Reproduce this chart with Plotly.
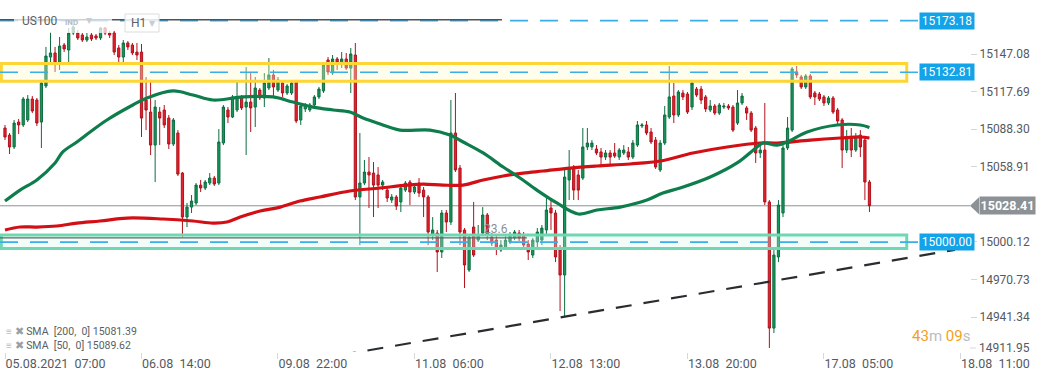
import plotly.graph_objects as go

# ---------------- data ----------------
opens = [15089.2, 15083.7, 15074.4, 15093.9, 15091.6, 15095.5, 15111.9, 15111.1, 15093.9, 15122.1,
         15144.7, 15147.9, 15140.0, 15154.1, 15150.2, 15163.5, 15163.5, 15161.9, 15158.0, 15161.9,
         15161.2, 15159.6, 15167.4, 15163.5, 15163.5, 15151.8, 15144.7, 15155.7, 15154.1, 15148.6,
         15148.6,
         15111.1, 15101.7, 15075.9, 15101.7, 15103.3, 15097.0, 15076.7, 15085.3, 15054.0, 15019.6,
         15027.4, 15030.6, 15044.6, 15042.3, 15046.2, 15050.1, 15046.2, 15077.5, 15103.3, 15097.8,
         15103.3, 15113.5, 15105.6, 15109.5, 15105.6, 15118.9, 15112.7, 15120.5, 15130.7, 15118.9,
         15124.4, 15116.6, 15116.6, 15125.2, 15095.5, 15104.1, 15103.3, 15107.2, 15113.5, 15118.2,
         15142.4, 15132.2, 15143.2, 15140.0, 15143.2, 15136.1, 15146.3,
         15035.3, 15046.2, 15054.8, 15054.0, 15052.5, 15044.6, 15040.7, 15032.9, 15035.3, 15031.4,
         15040.7, 15047.0, 15039.2, 15046.2, 15040.7, 15035.3, 15005.6, 15007.1, 14992.3, 15022.8,
         15015.7, 15085.3, 15057.9, 15009.5, 14978.2, 15011.8, 15001.6, 15007.1, 15021.2, 15004.0,
         15001.6, 14993.8, 14995.4, 15000.1, 15003.2, 15007.1, 15005.6, 14998.5, 14989.9, 15000.1,
         15001.6, 15009.5, 15026.7, 15022.8, 14993.8, 14974.3, 15048.6, 15057.9, 15052.5, 15050.1,
         15074.4, 15074.4, 15072.8, 15070.5, 15066.5, 15069.7, 15069.7, 15066.5, 15069.7, 15070.5,
         15066.5, 15075.9, 15090.8, 15091.6, 15086.1, 15079.8, 15056.4, 15077.5, 15097.8, 15114.2,
         15099.4, 15116.6, 15115.8, 15105.6, 15119.7, 15119.7, 15113.5, 15103.3, 15106.4, 15100.9,
         15105.6, 15106.4, 15105.6, 15093.1, 15108.8, 15104.9, 15100.9, 15089.2, 15069.7, 15072.0,
         15031.4, 14932.8, 14988.4, 15022.8, 15073.6, 15087.6, 15133.0, 15129.1, 15121.3, 15129.9,
         15116.6, 15115.8, 15113.5, 15108.8, 15112.7, 15103.3, 15095.5, 15072.0, 15082.2, 15072.0,
         15083.7, 15079.8, 15047.0]
highs = [15091.6, 15085.3, 15095.5, 15096.3, 15113.5, 15115.0, 15114.2, 15112.7, 15126.8, 15152.6,
         15164.3, 15152.6, 15160.4, 15155.7, 15167.4, 15169.8, 15165.8, 15163.5, 15163.5, 15163.5,
         15162.7, 15168.2, 15168.2, 15165.1, 15165.1, 15154.1, 15158.0, 15157.2, 15155.7, 15155.7,
         15154.9,
         15129.1, 15126.8, 15111.1, 15105.6, 15107.2, 15099.4, 15097.0, 15087.6, 15054.8, 15030.6,
         15036.8, 15046.2, 15048.6, 15048.6, 15054.0, 15051.7, 15088.4, 15107.2, 15105.6, 15115.0,
         15125.2, 15115.0, 15136.9, 15133.0, 15129.1, 15120.5, 15132.2, 15143.9, 15134.6, 15129.1,
         15126.8, 15123.6, 15126.8, 15126.8, 15108.0, 15108.8, 15108.8, 15115.0, 15121.3, 15140.8,
         15144.7, 15146.3, 15144.7, 15148.6, 15147.9, 15151.8, 15155.7,
         15085.3, 15064.2, 15066.5, 15062.6, 15058.7, 15048.6, 15043.1, 15037.6, 15036.8, 15044.6,
         15047.8, 15048.6, 15045.4, 15050.1, 15043.1, 15036.8, 15019.6, 15009.5, 15025.1, 15025.1,
         15111.1, 15116.6, 15060.3, 15011.0, 15005.6, 15031.4, 15013.4, 15027.4, 15022.8, 15007.1,
         15004.8, 15001.6, 15004.8, 15007.9, 15009.5, 15009.5, 15007.9, 15001.6, 15003.2, 15011.0,
         15013.4, 15034.5, 15032.9, 15025.1, 14997.7, 15056.4, 15072.0, 15060.3, 15056.4, 15089.2,
         15089.2, 15079.8, 15075.9, 15073.6, 15072.0, 15072.0, 15077.5, 15073.6, 15075.9, 15074.4,
         15079.8, 15094.7, 15093.1, 15094.7, 15089.2, 15082.2, 15079.8, 15106.4, 15137.7, 15124.4,
         15118.9, 15118.9, 15117.4, 15126.8, 15121.3, 15122.1, 15115.0, 15111.1, 15108.0, 15108.8,
         15108.8, 15108.0, 15107.2, 15118.9, 15116.6, 15106.4, 15102.5, 15090.8, 15075.9, 15108.8,
         15032.9, 14993.8, 15032.9, 15075.9, 15097.8, 15136.9, 15137.7, 15130.7, 15131.4, 15131.4,
         15118.2, 15117.4, 15115.0, 15114.2, 15114.2, 15104.9, 15097.0, 15087.6, 15089.2, 15085.3,
         15087.6, 15081.4, 15048.6]
lows = [15079.8, 15068.9, 15072.8, 15084.5, 15090.0, 15093.9, 15100.9, 15090.8, 15073.6, 15120.5,
        15140.8, 15133.0, 15134.6, 15148.6, 15140.0, 15161.9, 15158.0, 15156.5, 15156.5, 15157.2,
        15158.0, 15158.0, 15161.9, 15159.6, 15146.3, 15140.8, 15140.8, 15150.2, 15146.3, 15142.4,
        15082.2,
        15087.6, 15068.1, 15047.0, 15075.9, 15089.2, 15072.8, 15075.1, 15051.7, 15004.0, 15011.8,
        15022.8, 15029.0, 15039.2, 15040.7, 15044.6, 15043.9, 15044.6, 15075.9, 15093.1, 15097.0,
        15101.7, 15103.3, 15068.1, 15086.1, 15090.0, 15111.1, 15105.6, 15118.9, 15113.5, 15117.4,
        15113.5, 15115.0, 15115.0, 15093.1, 15091.6, 15101.7, 15101.7, 15105.6, 15111.9, 15116.6,
        15130.7, 15130.7, 15134.6, 15136.1, 15134.6, 15116.6, 15032.9,
        14997.7, 15044.6, 15026.7, 15019.6, 15026.7, 15040.7, 15031.4, 15030.6, 15025.1, 15023.5,
        15039.2, 15029.0, 15037.6, 15035.3, 15019.6, 14997.7, 15001.6, 14976.6, 14987.6, 15007.9,
        15013.4, 15054.8, 14997.7, 14964.1, 14976.6, 14988.4, 15000.1, 15005.6, 15001.6, 14997.0,
        14989.9, 14992.3, 14993.8, 14998.5, 15001.6, 15000.9, 14995.4, 14986.0, 14987.6, 14993.8,
        14997.7, 15005.6, 15009.5, 14984.4, 14946.1, 14941.4, 15032.9, 15032.9, 15032.9, 15048.6,
        15072.0, 15072.0, 15068.1, 15060.3, 15064.2, 15060.3, 15065.8, 15064.2, 15068.1, 15064.2,
        15065.0, 15074.4, 15089.2, 15083.7, 15076.7, 15057.2, 15054.8, 15075.9, 15096.3, 15093.1,
        15097.8, 15111.1, 15100.2, 15103.3, 15113.5, 15108.0, 15101.7, 15101.7, 15099.4, 15099.4,
        15104.1, 15103.3, 15086.1, 15091.6, 15107.2, 15095.5, 15086.1, 15061.9, 15065.8, 15029.0,
        14917.2, 14928.9, 14984.4, 15019.6, 15072.0, 15086.1, 15128.3, 15119.7, 15119.7, 15111.9,
        15107.2, 15110.3, 15106.4, 15107.2, 15100.2, 15092.3, 15057.9, 15069.7, 15066.5, 15070.5,
        15066.5, 15032.9, 15023.5]
closes = [15082.2, 15074.4, 15093.1, 15091.6, 15111.9, 15111.9, 15102.5, 15093.1, 15124.4, 15145.5,
          15147.9, 15140.0, 15153.3, 15151.0, 15163.5, 15168.2, 15159.6, 15158.0, 15160.4, 15158.8,
          15159.6, 15167.4, 15163.5, 15161.9, 15148.6, 15144.7, 15155.7, 15152.6, 15147.9, 15146.3,
          15097.0,
          15103.3, 15075.9, 15105.6, 15097.0, 15091.6, 15076.7, 15095.5, 15053.2, 15019.6, 15027.4,
          15032.1, 15044.6, 15042.3, 15047.0, 15050.1, 15045.4, 15078.3, 15105.6, 15097.8, 15113.5,
          15113.5, 15104.9, 15109.5, 15104.9, 15120.5, 15112.7, 15124.4, 15130.7, 15121.3, 15126.8,
          15116.6, 15122.1, 15124.4, 15094.7, 15106.4, 15107.2, 15107.2, 15113.5, 15119.7, 15138.5,
          15133.0, 15143.2, 15140.0, 15143.2, 15136.1, 15147.1, 15035.3,
          15046.2, 15054.8, 15052.5, 15044.6, 15044.6, 15047.0, 15034.5, 15035.3, 15028.2, 15042.3,
          15046.2, 15039.2, 15043.1, 15038.4, 15035.3, 15007.9, 15009.5, 14992.3, 15022.8, 15015.7,
          15085.3, 15056.4, 15007.9, 14982.1, 15004.0, 14989.9, 15005.6, 15021.2, 15005.6, 14999.3,
          14995.4, 14997.7, 15001.6, 15005.6, 15007.9, 15003.2, 14997.7, 14992.3, 15001.6, 15007.9,
          15011.0, 15025.1, 15022.8, 14988.4, 14974.3, 15050.9, 15057.9, 15040.7, 15040.7, 15074.4,
          15077.5, 15077.5, 15069.7, 15066.5, 15069.7, 15066.5, 15067.3, 15072.0, 15072.0, 15066.5,
          15077.5, 15091.6, 15091.6, 15085.3, 15078.3, 15058.7, 15077.5, 15099.4, 15113.5, 15099.4,
          15117.4, 15113.5, 15101.7, 15124.4, 15115.0, 15111.1, 15104.1, 15106.4, 15100.9, 15107.2,
          15106.4, 15104.9, 15087.6, 15108.8, 15114.2, 15100.9, 15087.6, 15069.7, 15072.0, 15031.4,
          14932.8, 14989.9, 15029.0, 15073.6, 15089.2, 15135.4, 15130.7, 15121.3, 15129.9, 15113.5,
          15113.5, 15111.9, 15108.8, 15112.7, 15101.7, 15094.7, 15072.0, 15082.2, 15072.0, 15082.2,
          15074.4, 15047.0, 15028.41]
candle_index = list(range(len(closes)))

sma50_idx = [0, 3.3, 7, 11, 12.7, 15.8, 18.7, 22.4, 28.1, 31.2, 36.9, 41.3, 45.7, 52.3, 58.9, 63.3,
             67.7, 72.1, 75.8, 78.7, 81.8, 86.8, 93.4, 97.8, 100.7, 105.1, 109.5, 113.2, 116.9, 121.3,
             126, 130.1, 135.2, 141.1, 144.6, 148.4, 155, 160.9, 165.3, 166.6, 169.7, 171.9, 176.3,
             182.9, 188, 190]
sma50_val = [15032.1, 15040.7, 15048.6, 15061.9, 15070.5, 15078.3, 15086.1, 15095.5, 15107.2, 15112.7,
             15118.2, 15115.0, 15111.1, 15113.5, 15113.5, 15109.5, 15105.6, 15103.3, 15101.7, 15097.0,
             15093.1, 15087.6, 15087.6, 15083.7, 15078.3, 15069.7, 15058.7, 15050.1, 15040.7, 15030.6,
             15022.0, 15025.1, 15027.4, 15032.9, 15038.4, 15042.3, 15050.9, 15061.9, 15074.4, 15077.5,
             15075.9, 15078.3, 15086.1, 15091.6, 15091.6, 15089.62]
sma200_idx = [0, 3.3, 7, 11.4, 15.8, 20.9, 26.8, 34.7, 41.3, 45.7, 48.8, 51.7, 56.1, 60.5, 64.8, 69.2,
              75.8, 82.4, 88.4, 91.9, 96.3, 100.7, 105.1, 109.5, 113.9, 118.3, 124.2, 130.1, 137.4, 144,
              151.2, 158.7, 166, 169.7, 177, 183.6, 188, 190]
sma200_val = [15009.5, 15011.8, 15011.8, 15012.6, 15014.9, 15016.5, 15018.8, 15018.1, 15016.5, 15014.9,
              15015.7, 15019.6, 15024.3, 15027.4, 15032.1, 15035.3, 15040.0, 15042.3, 15044.6, 15045.4,
              15044.6, 15044.6, 15048.6, 15051.7, 15054.0, 15055.6, 15057.9, 15059.5, 15061.1, 15063.4,
              15069.7, 15074.4, 15077.5, 15077.5, 15079.8, 15081.4, 15082.2, 15081.39]

trend_x = [73.6, 208.8]
trend_y = [14911.6, 14994.0]

level_prices = [15173.18, 15132.81, 15000.00]
level_labels = ["15173.18", "15132.81", "15000.00"]
yellow_zone = [15125.8, 15139.6]
green_zone = [14995.0, 15005.6]
fib_level = 15003.4
fib_end_idx = 114.7
fib_label = "23.6"
top_line_price = 15173.9
last_price = 15028.41

y_tick_vals = [15147.08, 15117.69, 15088.30, 15058.91, 15000.12, 14970.73, 14941.34]
bottom_tick = 14911.95
x_tick_idx = [0, 30, 60, 90, 120, 150, 180, 210]
x_tick_text = ["05.08.2021  07:00", "06.08  14:00", "09.08  22:00", "11.08  06:00",
               "12.08  13:00", "13.08  20:00", "17.08  05:00", "18.08  11:00"]
sma_legend = ["SMA  [200,  0] 15081.39", "SMA  [50,  0] 15089.62"]

# ---------------- figure ----------------
FONT = "Roboto"
W, H = 1041, 379
ML, MR, MT, MB = 0, 71, 0, 27
PW, PH = W - ML - MR, H - MT - MB
X0, X1 = -1.1, 212.1
Y0, Y1 = 14914.1, 15189.3

def px_x(p):
    return p / PW

def px_y(p):
    return 1 - p / PH

fig = go.Figure()

fig.add_trace(go.Candlestick(
    x=candle_index, open=opens, high=highs, low=lows, close=closes,
    increasing=dict(line=dict(color="#0c6e40", width=1), fillcolor="#17955a"),
    decreasing=dict(line=dict(color="#b3121c", width=1), fillcolor="#e2232d"),
    whiskerwidth=0, showlegend=False, hoverinfo="skip"))

fig.add_trace(go.Scatter(x=sma200_idx, y=sma200_val, mode="lines", line_shape="spline",
                         line=dict(color="#d30f16", width=3.2), showlegend=False, hoverinfo="skip"))
fig.add_trace(go.Scatter(x=sma50_idx, y=sma50_val, mode="lines", line_shape="spline",
                         line=dict(color="#0e7d4c", width=3.2), showlegend=False, hoverinfo="skip"))
fig.add_trace(go.Scatter(x=trend_x, y=trend_y, mode="lines",
                         line=dict(color="#2a2d30", width=2.2, dash="16px,12px"),
                         showlegend=False, hoverinfo="skip"))

shapes = []
# zones
shapes.append(dict(type="rect", xref="x", yref="y", x0=-0.8, x1=198.2, y0=yellow_zone[0], y1=yellow_zone[1],
                   line=dict(color="#fdd535", width=3), fillcolor="rgba(255,248,200,0.35)", layer="above"))
shapes.append(dict(type="rect", xref="x", yref="y", x0=-0.8, x1=198.2, y0=green_zone[0], y1=green_zone[1],
                   line=dict(color="#6fd8b2", width=3), fillcolor="rgba(215,245,235,0.3)", layer="above"))
# price levels (dashed blue)
for lp in level_prices:
    shapes.append(dict(type="line", xref="paper", yref="y", x0=0, x1=px_x(919), y0=lp, y1=lp,
                       line=dict(color="#3aaee6", width=1.6, dash="18px,12px"), layer="above"))
# top gray line
shapes.append(dict(type="line", xref="paper", yref="y", x0=0, x1=px_x(502), y0=top_line_price, y1=top_line_price,
                   line=dict(color="#4d5358", width=1.5), layer="above"))
# fib line
shapes.append(dict(type="line", xref="paper", yref="y", x0=0, x1=(fib_end_idx - X0) / (X1 - X0),
                   y0=fib_level, y1=fib_level, line=dict(color="#5f6468", width=1.2), layer="above"))
# last price line
shapes.append(dict(type="line", xref="paper", yref="y", x0=0, x1=1, y0=last_price, y1=last_price,
                   line=dict(color="#8a9197", width=1), layer="below"))
# last price tag arrow
ppx = (Y1 - Y0) / PH
shapes.append(dict(type="path", xref="paper", yref="y",
                   path=f"M {px_x(970)} {last_price} L {px_x(979)} {last_price + 8.5 * ppx} "
                        f"L {px_x(979)} {last_price - 8.5 * ppx} Z",
                   fillcolor="#8c9196", line=dict(width=0), layer="above"))
# header background
shapes.append(dict(type="rect", xref="paper", yref="paper", x0=px_x(14), x1=px_x(112),
                   y0=px_y(33), y1=px_y(11), fillcolor="rgba(255,255,255,0.72)", line=dict(width=0), layer="above"))
shapes.append(dict(type="rect", xref="paper", yref="paper", x0=px_x(125), x1=px_x(159),
                   y0=px_y(32), y1=px_y(14), fillcolor="rgba(255,255,255,0.85)",
                   line=dict(color="#dcdcdc", width=1), layer="above"))

annotations = []
for lp, lt in zip(level_prices, level_labels):
    annotations.append(dict(xref="paper", yref="y", x=px_x(919), y=lp, xanchor="left", yanchor="middle",
                            text=lt, showarrow=False, bgcolor="#12a3e8", width=54, height=16, borderpad=0,
                            font=dict(family=FONT, size=12, color="white")))
annotations.append(dict(xref="paper", yref="y", x=px_x(979), y=last_price, xanchor="left", yanchor="middle",
                        text=f"<b>{last_price:.2f}</b>", showarrow=False, bgcolor="#8c9196", width=55, height=17,
                        borderpad=0, font=dict(family=FONT, size=12.5, color="white")))
# bottom y tick label (drawn just above the axis edge, as in the source)
annotations.append(dict(xref="paper", yref="paper", x=px_x(977), y=px_y(348), xanchor="left",
                        yanchor="middle", text=f"{bottom_tick:.2f}", showarrow=False,
                        font=dict(family=FONT, size=12, color="#555a5f")))
shapes.append(dict(type="line", xref="paper", yref="paper", x0=px_x(970), x1=px_x(976),
                   y0=px_y(348), y1=px_y(348), line=dict(color="#d5d8db", width=1)))
annotations.append(dict(xref="paper", yref="y", x=(108 - X0) / (X1 - X0), y=fib_level, yshift=9,
                        xanchor="center", yanchor="middle", text=fib_label, showarrow=False,
                        font=dict(family=FONT, size=12, color="#8a8f94")))
annotations.append(dict(xref="paper", yref="paper", x=px_x(972), y=px_y(336), xanchor="right", yanchor="middle",
                        text="<span style='color:#f5a01a'>43</span><span style='color:#b9bcc0'>m</span> "
                             "<span style='color:#f5a01a'>09</span><span style='color:#b9bcc0'>s</span>",
                        showarrow=False, font=dict(family=FONT, size=15)))
for i, txt in enumerate(sma_legend):
    annotations.append(dict(xref="paper", yref="paper", x=px_x(4), y=px_y(331 + 14.5 * i), xanchor="left",
                            yanchor="middle",
                            text="<span style='color:#9aa0a5'>\u2261 \u2716</span> " + txt.replace("  ", "\u00a0 "),
                            showarrow=False, font=dict(family=FONT, size=10.5, color="#5a5f64")))
# header texts
annotations.append(dict(xref="paper", yref="paper", x=px_x(20), y=px_y(21), xanchor="left", yanchor="middle",
                        text="US100", showarrow=False, font=dict(family=FONT, size=12, color="#5b6064")))
annotations.append(dict(xref="paper", yref="paper", x=px_x(63), y=px_y(23), xanchor="left", yanchor="middle",
                        text="<b>IND</b>", showarrow=False, font=dict(family=FONT, size=8, color="#b7bcc0")))
annotations.append(dict(xref="paper", yref="paper", x=px_x(84), y=px_y(20), xanchor="left", yanchor="middle",
                        text="\u25be", showarrow=False, font=dict(family=FONT, size=12, color="#c8ccd0")))
annotations.append(dict(xref="paper", yref="paper", x=px_x(129), y=px_y(23), xanchor="left", yanchor="middle",
                        text="H1 <span style='color:#c8ccd0'>\u25be</span>", showarrow=False,
                        font=dict(family=FONT, size=12, color="#5b6064")))

fig.update_layout(
    width=W, height=H, margin=dict(l=ML, r=MR, t=MT, b=MB),
    paper_bgcolor="white", plot_bgcolor="white",
    shapes=shapes, annotations=annotations, showlegend=False,
    xaxis=dict(range=[X0, X1], rangeslider=dict(visible=False), showgrid=False, zeroline=False,
               tickmode="array", tickvals=x_tick_idx,
               ticktext=[t.replace("  ", "\u00a0\u00a0") for t in x_tick_text],
               ticklabelposition="outside right", ticks="outside", ticklen=6, tickcolor="#d5d8db",
               tickfont=dict(family=FONT, size=12.5, color="#555a5f"), showline=False, fixedrange=True),
    yaxis=dict(range=[Y0, Y1], side="right", showgrid=False, zeroline=False,
               tickmode="array", tickvals=y_tick_vals, ticktext=[f"{v:.2f}" for v in y_tick_vals],
               ticks="outside", ticklen=6, tickcolor="#d5d8db",
               tickfont=dict(family=FONT, size=12, color="#555a5f"), showline=False, fixedrange=True),
)

fig.write_html("out.html", config={"displayModeBar": False, "staticPlot": True},
               post_script="document.body.style.margin='0';document.body.style.overflow='hidden';")
